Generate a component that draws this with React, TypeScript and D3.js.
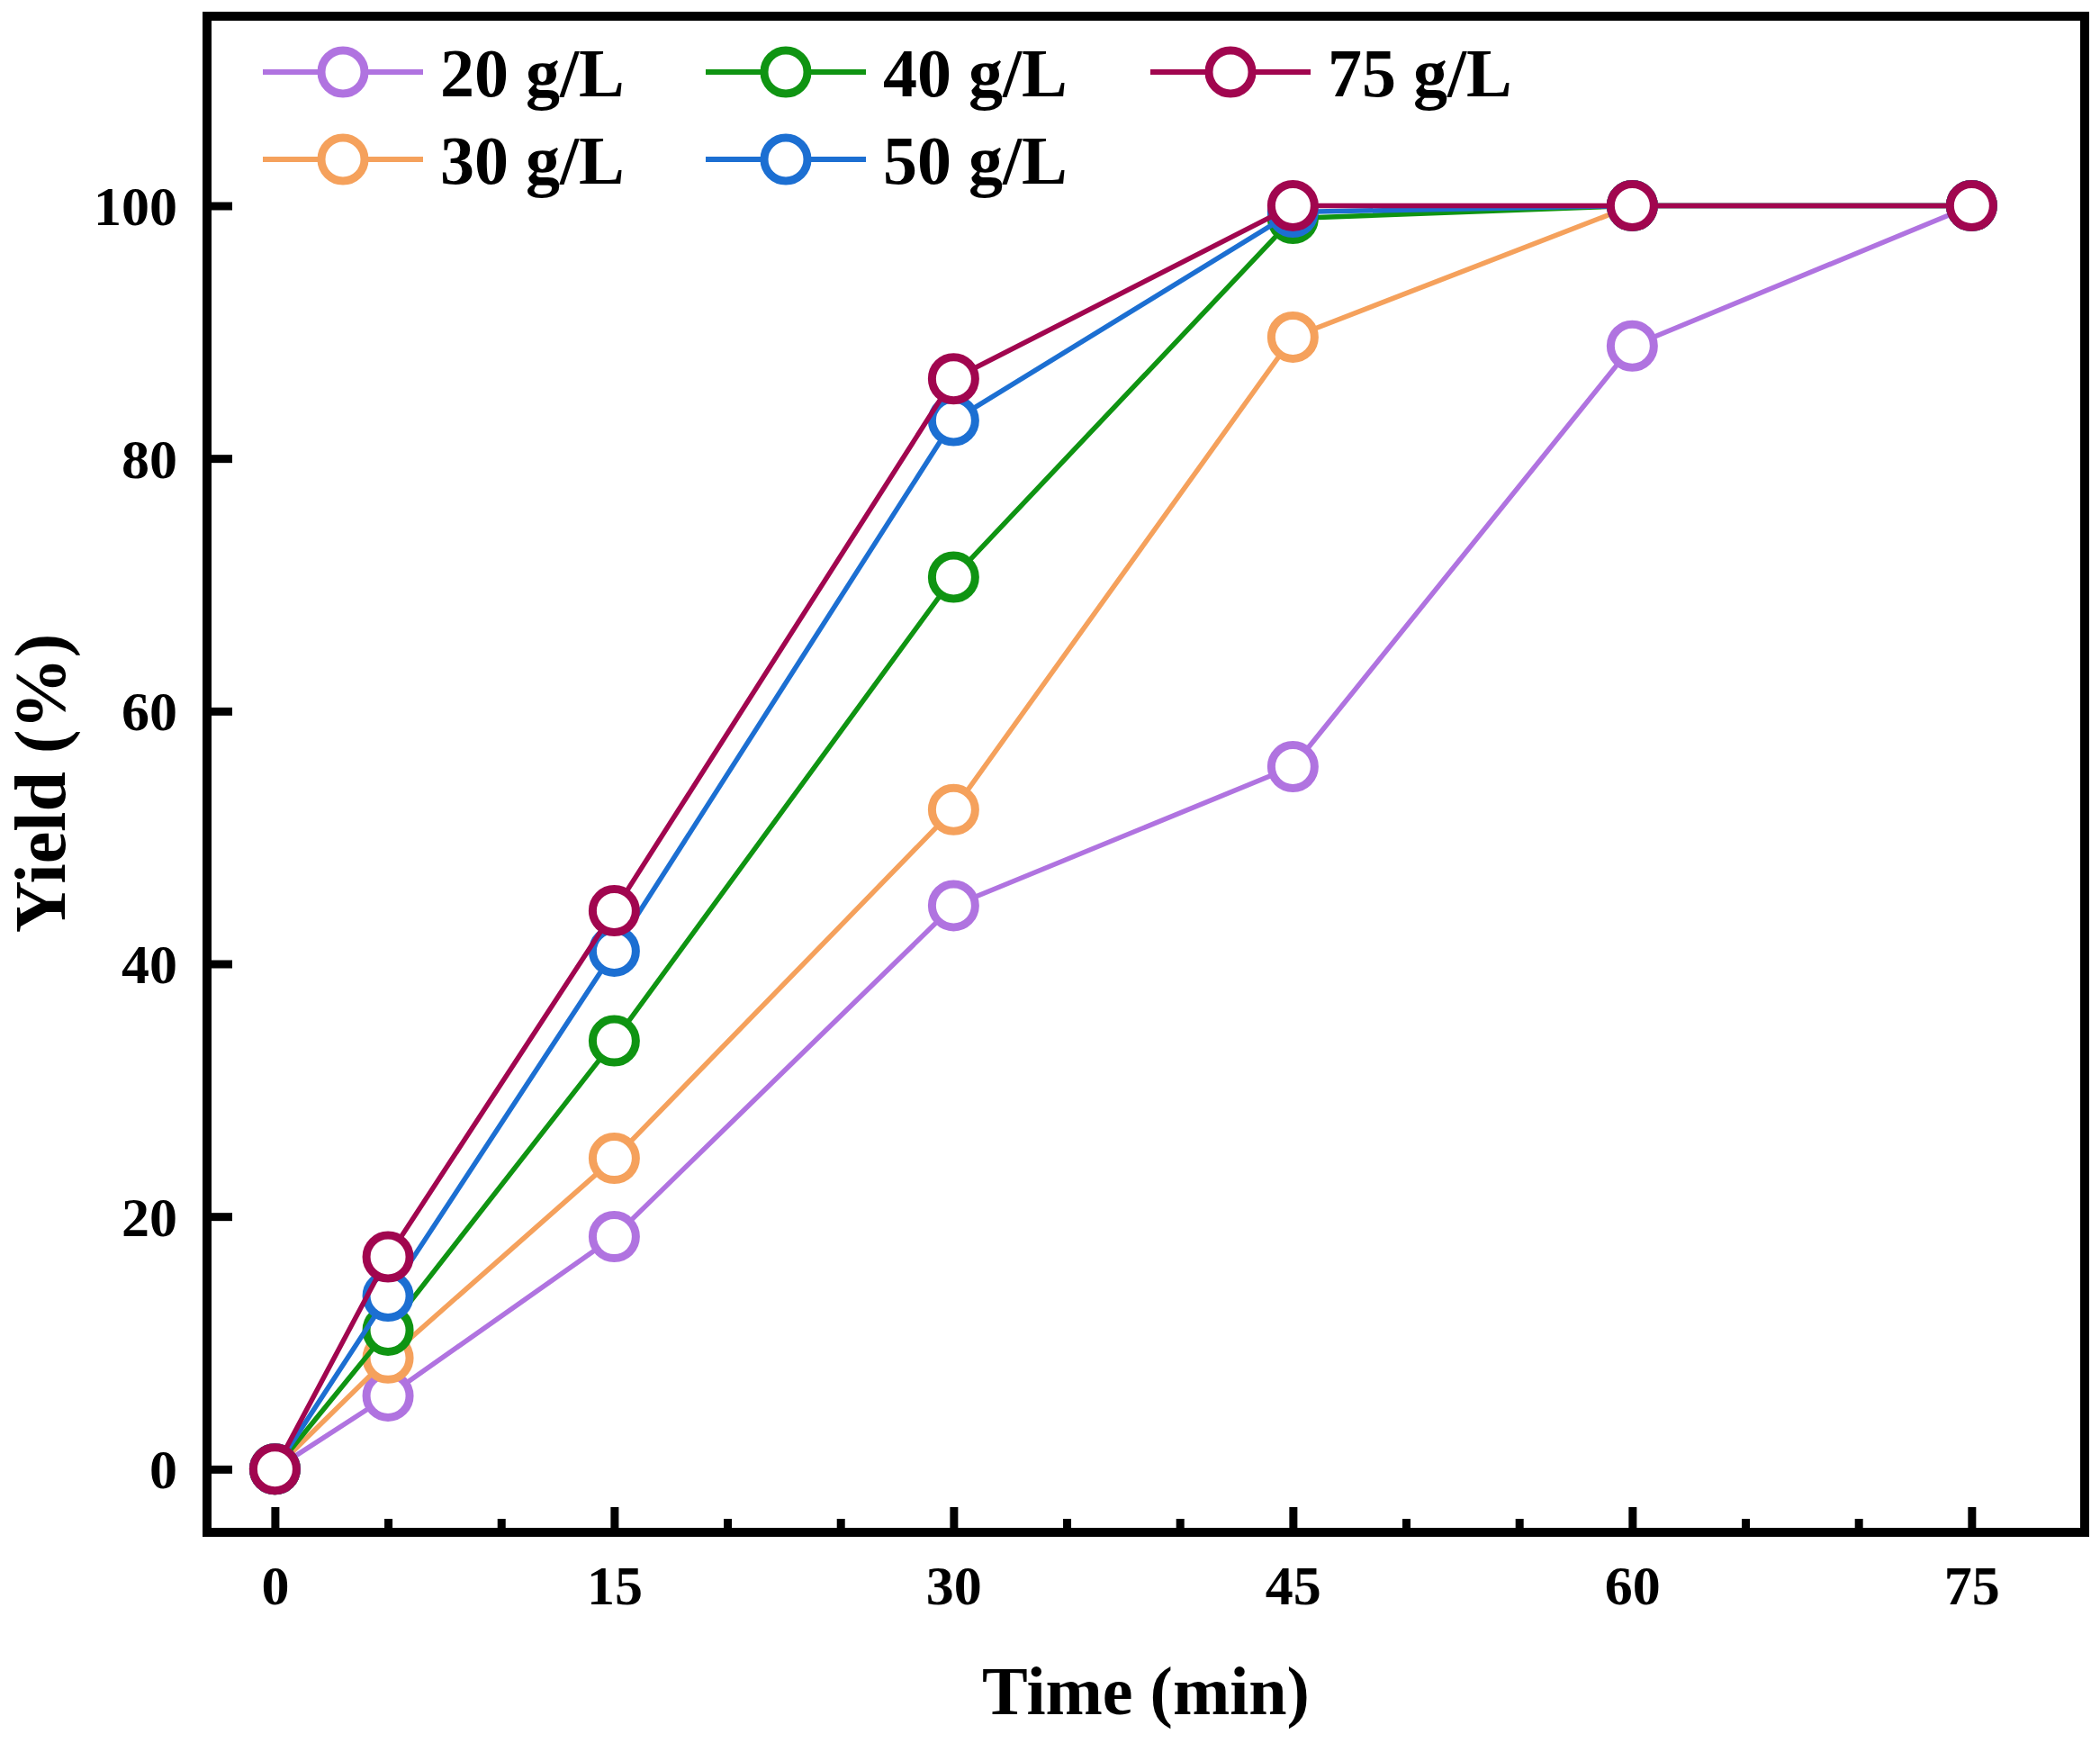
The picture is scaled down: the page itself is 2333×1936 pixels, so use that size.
import React, { useEffect, useRef } from "react";
import { select, scaleLinear, axisBottom, axisLeft, line } from "d3";

const times = [0, 5, 15, 30, 45, 60, 75];
const yield20 = [0, 5.8, 18.4, 44.6, 55.6, 88.9, 100];
const yield30 = [0, 8.8, 24.6, 52.2, 89.6, 100, 100];
const yield40 = [0, 11.0, 33.9, 70.6, 99.0, 100, 100];
const yield50 = [0, 13.7, 41.0, 83.0, 99.5, 100, 100];
const yield75 = [0, 16.8, 44.2, 86.3, 100, 100, 100];

const seriesNames = ["20 g/L", "30 g/L", "40 g/L", "50 g/L", "75 g/L"];
const seriesColors = ["#b073e0", "#f5a15c", "#0f9412", "#1c6fd2", "#a1064f"];
const seriesValues = [yield20, yield30, yield40, yield50, yield75];

const xMajorTicks = [0, 15, 30, 45, 60, 75];
const xMinorTicks = [5, 10, 20, 25, 35, 40, 50, 55, 65, 70];
const yTicks = [0, 20, 40, 60, 80, 100];

const W = 2333;
const H = 1936;
const FONT = "'Liberation Serif', 'Times New Roman', serif";

export default function App() {
  const svgRef = useRef<SVGSVGElement>(null);

  useEffect(() => {
    if (!svgRef.current) return;
    const svg = select(svgRef.current);
    svg.selectAll("*").remove();

    const left = 230, right = 2316, top = 18, bottom = 1702;
    const x = scaleLinear().domain([-3, 80]).range([left, right]);
    const y = scaleLinear().domain([-5, 115]).range([bottom, top]);

    // x axis major + minor (ticks pointing in)
    const gx = svg.append("g").attr("transform", `translate(0,${bottom})`);
    gx.call(axisBottom(x).tickValues(xMajorTicks).tickSizeInner(-28).tickSizeOuter(0).tickFormat((d) => String(d)) as any);
    gx.selectAll("text")
      .attr("y", 80)
      .attr("dy", 0)
      .style("font-family", FONT)
      .style("font-weight", "bold")
      .style("font-size", "62px")
      .attr("fill", "#000");
    gx.selectAll("line").attr("stroke", "#000").attr("stroke-width", 9);
    gx.select(".domain").remove();

    const gxm = svg.append("g").attr("transform", `translate(0,${bottom})`);
    gxm.call(axisBottom(x).tickValues(xMinorTicks).tickSizeInner(-15).tickSizeOuter(0).tickFormat(() => "") as any);
    gxm.selectAll("line").attr("stroke", "#000").attr("stroke-width", 9);
    gxm.select(".domain").remove();

    // y axis
    const gy = svg.append("g").attr("transform", `translate(${left},0)`);
    gy.call(axisLeft(y).tickValues(yTicks).tickSizeInner(-28).tickSizeOuter(0).tickFormat((d) => String(d)) as any);
    gy.selectAll("text")
      .attr("x", -33)
      .attr("dy", 21)
      .style("font-family", FONT)
      .style("font-weight", "bold")
      .style("font-size", "62px")
      .attr("fill", "#000");
    gy.selectAll("line").attr("stroke", "#000").attr("stroke-width", 9);
    gy.select(".domain").remove();

    // frame
    svg.append("rect")
      .attr("x", left)
      .attr("y", top)
      .attr("width", right - left)
      .attr("height", bottom - top)
      .attr("fill", "none")
      .attr("stroke", "#000")
      .attr("stroke-width", 10);

    const lineGen = line<number>()
      .x((_, i) => x(times[i]))
      .y((d) => y(d));

    seriesValues.forEach((vals, si) => {
      const g = svg.append("g");
      g.append("path")
        .attr("d", lineGen(vals))
        .attr("fill", "none")
        .attr("stroke", seriesColors[si])
        .attr("stroke-width", 5.5)
        .attr("stroke-linejoin", "round");
      g.selectAll("circle")
        .data(vals)
        .join("circle")
        .attr("cx", (_, i) => x(times[i]))
        .attr("cy", (d) => y(d))
        .attr("r", 24)
        .attr("fill", "#fff")
        .attr("stroke", seriesColors[si])
        .attr("stroke-width", 9);
    });

    // legend
    const legendCols = [292, 784, 1278];
    const legendRows = [80, 177];
    const legendOrder = [0, 2, 4, 1, 3];
    legendOrder.forEach((si, k) => {
      const col = k < 3 ? k : k - 3;
      const row = k < 3 ? 0 : 1;
      const lx = legendCols[col];
      const ly = legendRows[row];
      const g = svg.append("g");
      g.append("line")
        .attr("x1", lx).attr("x2", lx + 178)
        .attr("y1", ly).attr("y2", ly)
        .attr("stroke", seriesColors[si])
        .attr("stroke-width", 6);
      g.append("circle")
        .attr("cx", lx + 89).attr("cy", ly)
        .attr("r", 24)
        .attr("fill", "#fff")
        .attr("stroke", seriesColors[si])
        .attr("stroke-width", 9);
      g.append("text")
        .attr("x", lx + 197)
        .attr("y", ly + 27)
        .style("font-family", FONT)
        .style("font-weight", "bold")
        .style("font-size", "76px")
        .text(seriesNames[si]);
    });

    // axis titles
    svg.append("text")
      .attr("x", (left + right) / 2)
      .attr("y", 1904)
      .attr("text-anchor", "middle")
      .style("font-family", FONT)
      .style("font-weight", "bold")
      .style("font-size", "76px")
      .text("Time (min)");

    svg.append("text")
      .attr("transform", `translate(72,${(top + bottom) / 2 + 10}) rotate(-90)`)
      .attr("text-anchor", "middle")
      .style("font-family", FONT)
      .style("font-weight", "bold")
      .style("font-size", "80px")
      .text("Yield (%)");
  }, []);

  return (
    <svg
      ref={svgRef}
      width={W}
      height={H}
      viewBox={`0 0 ${W} ${H}`}
      style={{ position: "absolute", left: 0, top: 0, background: "#fff" }}
    />
  );
}
